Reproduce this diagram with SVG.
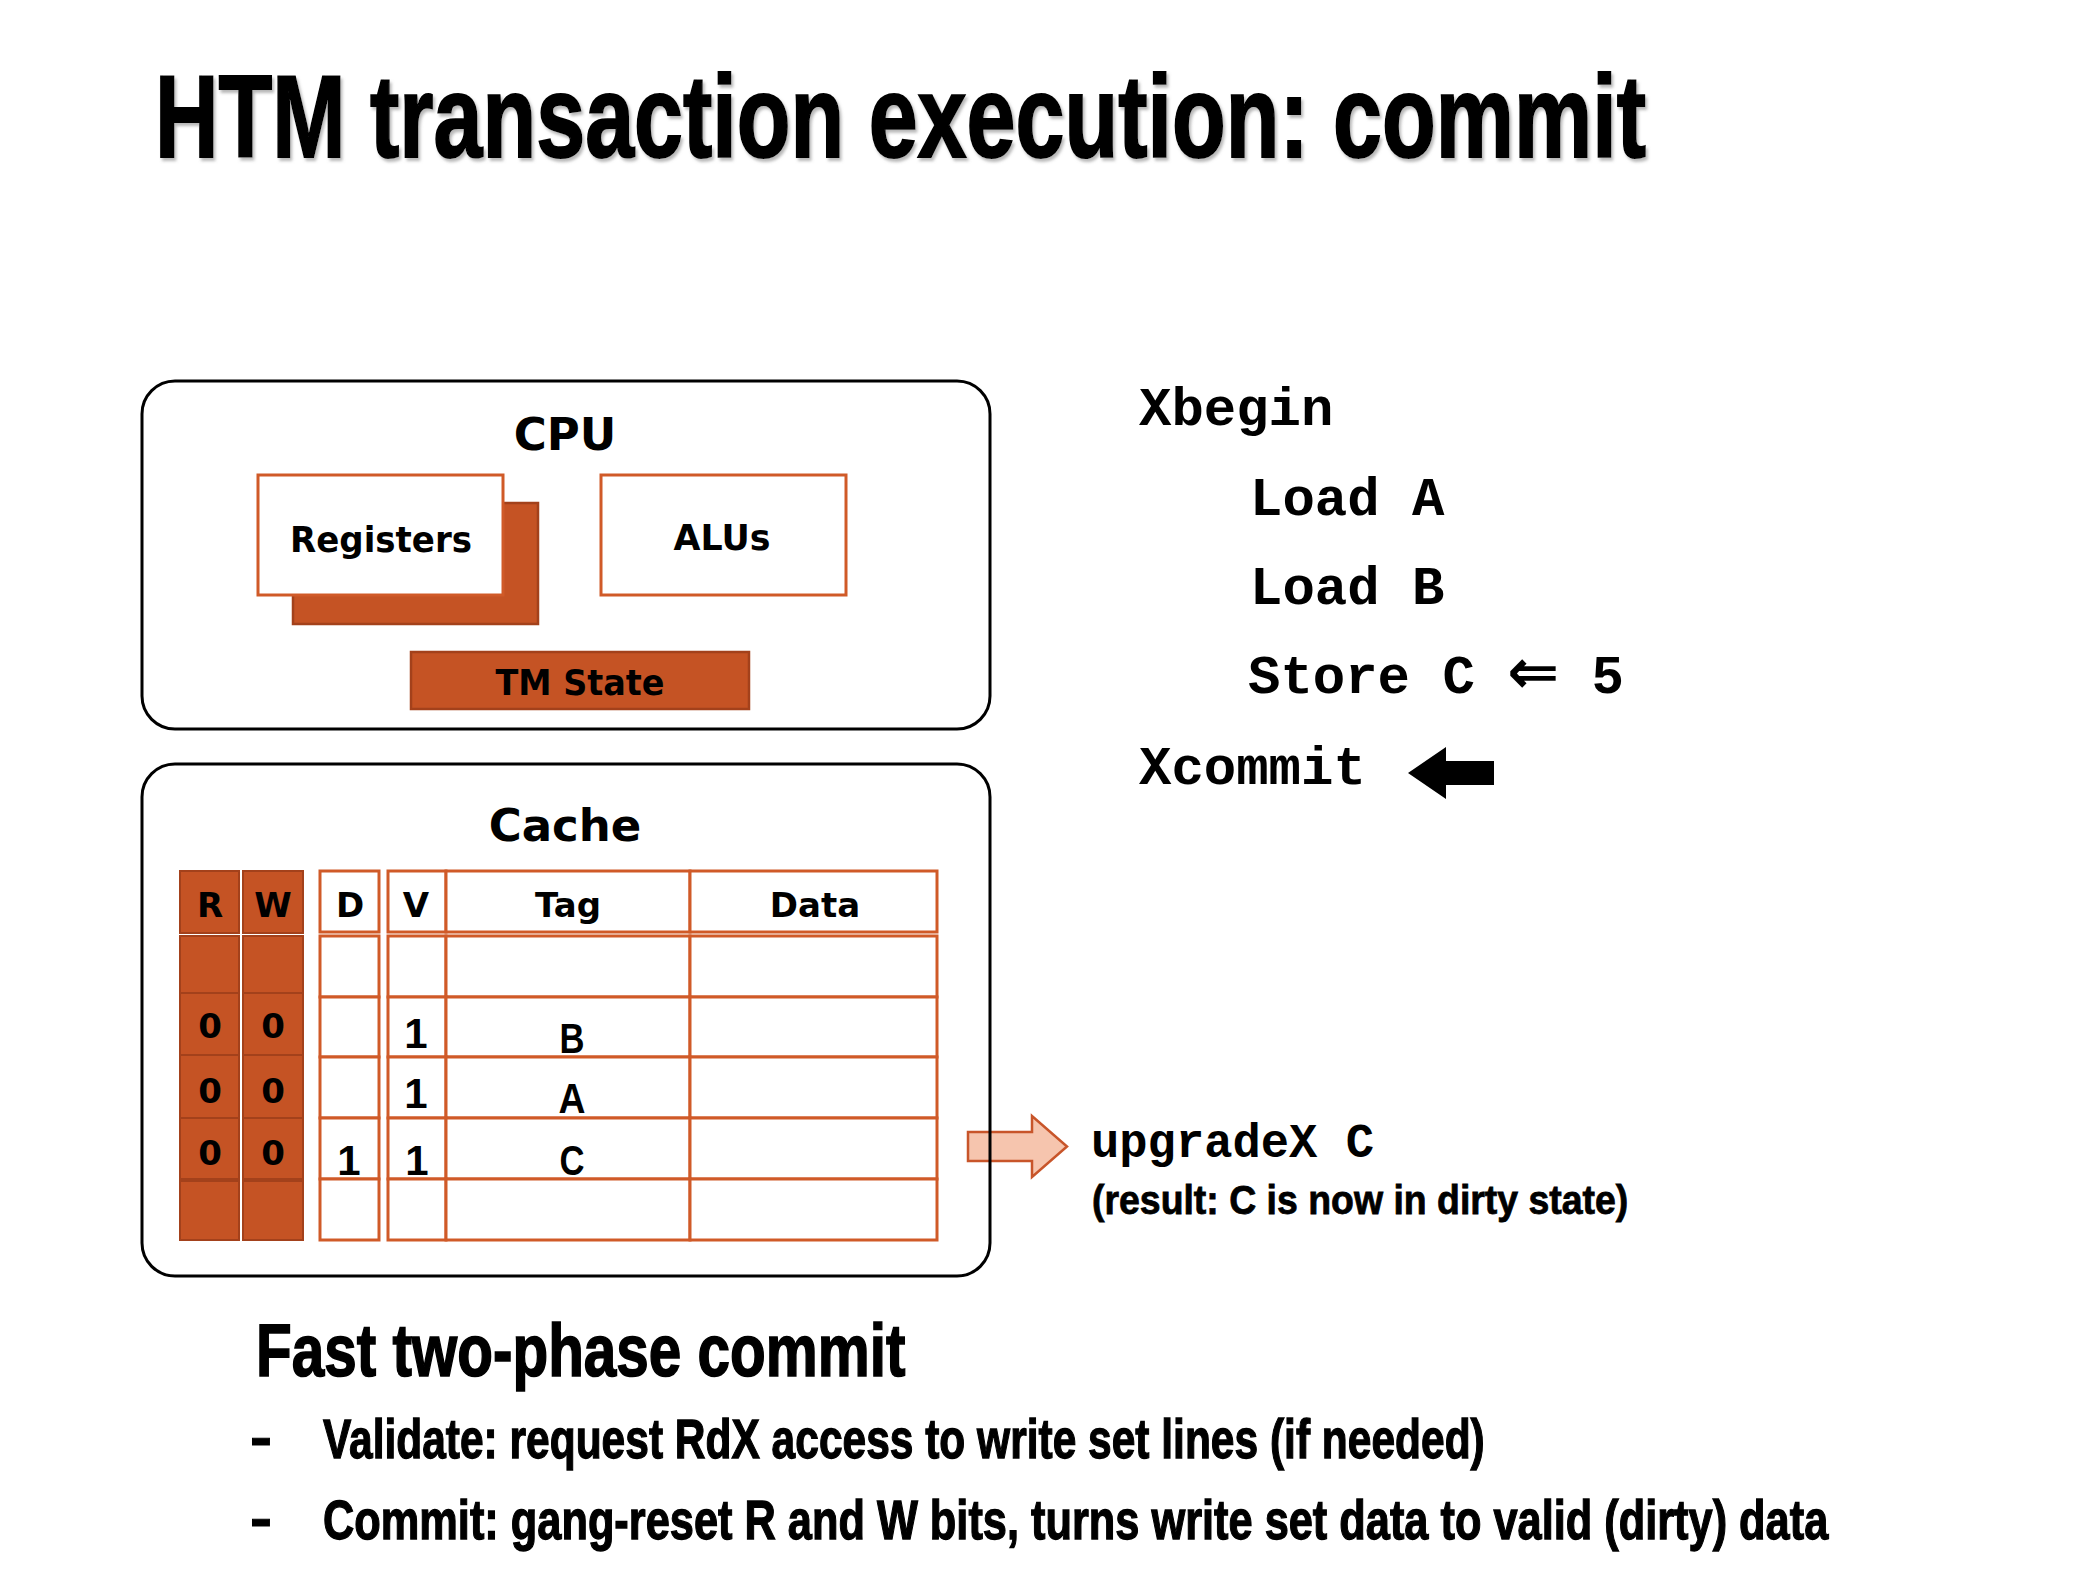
<svg xmlns="http://www.w3.org/2000/svg" width="2098" height="1596" viewBox="0 0 2098 1596">
<defs>
<style>
.box{fill:none;stroke:#000;stroke-width:3}
.wbox{fill:#fff;stroke:#D05A28;stroke-width:3}
.obox{fill:#C55324;stroke:#A3411B;stroke-width:2.5}
.cell{fill:#fff;stroke:#D05A28;stroke-width:3}
.rw{fill:#C55324;stroke:#A3411B;stroke-width:2}
.lbl{font-family:"DejaVu Sans",Verdana,sans-serif;font-weight:bold;fill:#000;text-anchor:middle}
.let{font-family:"Liberation Sans",Arial,sans-serif;font-weight:bold;fill:#000;text-anchor:middle}
.cond{font-family:"Liberation Sans",Arial,sans-serif;font-weight:bold;fill:#000;stroke:#000}
.mono{font-family:"Liberation Mono","DejaVu Sans Mono",monospace;font-weight:bold;fill:#000}
</style>
<filter id="shadow" filterUnits="userSpaceOnUse" x="0" y="0" width="2098" height="260">
<feDropShadow dx="2" dy="3" stdDeviation="1.5" flood-color="#888" flood-opacity="0.6"/>
</filter>
</defs>
<rect x="0" y="0" width="2098" height="1596" fill="#fff"/>

<g id="title" filter="url(#shadow)">
<text class="cond" transform="translate(155,157) scale(0.75,1)" x="0" y="0" font-size="117" stroke-width="2" textLength="1988" lengthAdjust="spacingAndGlyphs">HTM transaction execution: commit</text>
</g>

<g id="connectors">
<polygon points="968,1132 1032,1132 1032,1116 1067,1146.5 1032,1177 1032,1161 968,1161" fill="#F6C5AE" stroke="#C8552A" stroke-width="2.5" stroke-linejoin="miter"/>
<polygon points="1408,773 1446,747 1446,761 1494,761 1494,785 1446,785 1446,799" fill="#000"/>
</g>

<g id="cpu">
<rect class="box" x="142" y="381" width="848" height="348" rx="33" ry="33"/>
<text class="lbl" x="565" y="450" font-size="45">CPU</text>
</g>
<g id="registers">
<rect class="obox" x="293" y="503" width="245" height="121"/>
<rect class="wbox" x="258" y="475" width="245" height="120"/>
<text class="lbl" x="381" y="552" font-size="36" textLength="182" lengthAdjust="spacingAndGlyphs">Registers</text>
</g>
<g id="alus">
<rect class="wbox" x="601" y="475" width="245" height="120"/>
<text class="lbl" x="722" y="550" font-size="36" textLength="97" lengthAdjust="spacingAndGlyphs">ALUs</text>
</g>
<g id="tm-state">
<rect class="obox" x="411" y="652" width="338" height="57"/>
<text class="lbl" x="580" y="695" font-size="35" textLength="169" lengthAdjust="spacingAndGlyphs">TM State</text>
</g>

<g id="cache">
<rect class="box" x="142" y="764" width="848" height="512" rx="33" ry="33"/>
<text class="lbl" x="565" y="841" font-size="45">Cache</text>
</g>

<g id="rw-bits">
<rect class="rw" x="180" y="871" width="59" height="62"/>
<rect class="rw" x="243" y="871" width="60" height="62"/>
<rect class="rw" x="180" y="936" width="59" height="57"/>
<rect class="rw" x="243" y="936" width="60" height="57"/>
<rect class="rw" x="180" y="993" width="59" height="62"/>
<rect class="rw" x="243" y="993" width="60" height="62"/>
<rect class="rw" x="180" y="1055" width="59" height="63"/>
<rect class="rw" x="243" y="1055" width="60" height="63"/>
<rect class="rw" x="180" y="1118" width="59" height="61"/>
<rect class="rw" x="243" y="1118" width="60" height="61"/>
<rect class="rw" x="180" y="1181" width="59" height="59"/>
<rect class="rw" x="243" y="1181" width="60" height="59"/>
<text class="lbl" x="210" y="917" font-size="34">R</text>
<text class="lbl" x="273" y="917" font-size="34">W</text>
<text class="lbl" x="210" y="1038" font-size="34">0</text>
<text class="lbl" x="273" y="1038" font-size="34">0</text>
<text class="lbl" x="210" y="1103" font-size="34">0</text>
<text class="lbl" x="273" y="1103" font-size="34">0</text>
<text class="lbl" x="210" y="1165" font-size="34">0</text>
<text class="lbl" x="273" y="1165" font-size="34">0</text>
</g>

<g id="cache-lines">
<rect class="cell" x="320" y="871" width="59" height="61"/>
<rect class="cell" x="388" y="871" width="58" height="61"/>
<rect class="cell" x="446" y="871" width="244" height="61"/>
<rect class="cell" x="690" y="871" width="247" height="61"/>
<rect class="cell" x="320" y="936" width="59" height="61"/>
<rect class="cell" x="388" y="936" width="58" height="61"/>
<rect class="cell" x="446" y="936" width="244" height="61"/>
<rect class="cell" x="690" y="936" width="247" height="61"/>
<rect class="cell" x="320" y="997" width="59" height="60"/>
<rect class="cell" x="388" y="997" width="58" height="60"/>
<rect class="cell" x="446" y="997" width="244" height="60"/>
<rect class="cell" x="690" y="997" width="247" height="60"/>
<rect class="cell" x="320" y="1057" width="59" height="61"/>
<rect class="cell" x="388" y="1057" width="58" height="61"/>
<rect class="cell" x="446" y="1057" width="244" height="61"/>
<rect class="cell" x="690" y="1057" width="247" height="61"/>
<rect class="cell" x="320" y="1118" width="59" height="61"/>
<rect class="cell" x="388" y="1118" width="58" height="61"/>
<rect class="cell" x="446" y="1118" width="244" height="61"/>
<rect class="cell" x="690" y="1118" width="247" height="61"/>
<rect class="cell" x="320" y="1179" width="59" height="61"/>
<rect class="cell" x="388" y="1179" width="58" height="61"/>
<rect class="cell" x="446" y="1179" width="244" height="61"/>
<rect class="cell" x="690" y="1179" width="247" height="61"/>
<text class="lbl" x="350" y="917" font-size="34">D</text>
<text class="lbl" x="416" y="917" font-size="34">V</text>
<text class="lbl" x="568" y="917" font-size="34">Tag</text>
<text class="lbl" x="815" y="917" font-size="34">Data</text>
<text class="let" x="416" y="1048" font-size="42">1</text>
<text class="let" x="572" y="1053" font-size="42" textLength="25" lengthAdjust="spacingAndGlyphs">B</text>
<text class="let" x="416" y="1108" font-size="42">1</text>
<text class="let" x="572" y="1113" font-size="42" textLength="27" lengthAdjust="spacingAndGlyphs">A</text>
<text class="let" x="349" y="1175" font-size="42">1</text>
<text class="let" x="417" y="1175" font-size="42">1</text>
<text class="let" x="572" y="1175" font-size="42" textLength="25" lengthAdjust="spacingAndGlyphs">C</text>
</g>

<g id="code">
<text class="mono" x="1139" y="425" font-size="54">Xbegin</text>
<text class="mono" x="1250" y="515" font-size="54">Load A</text>
<text class="mono" x="1250" y="604" font-size="54">Load B</text>
<text class="mono" x="1248" y="693" font-size="54">Store C <tspan font-family="DejaVu Sans, sans-serif" font-size="62">⇐</tspan> 5</text>
<text class="mono" x="1139" y="784" font-size="54">Xcommit</text>
</g>

<g id="upgrade-note">
<text class="mono" x="1091" y="1157" font-size="48" textLength="283" lengthAdjust="spacingAndGlyphs">upgradeX C</text>
<text class="cond" transform="translate(1092,1214) scale(0.82,1)" x="0" y="0" font-size="40" stroke-width="0.8" textLength="654" lengthAdjust="spacingAndGlyphs">(result: C is now in dirty state)</text>
</g>

<g id="summary">
<text class="cond" transform="translate(256,1376) scale(0.79,1)" x="0" y="0" font-size="74" stroke-width="1.6" textLength="822" lengthAdjust="spacingAndGlyphs">Fast two-phase commit</text>
<text class="cond" x="250" y="1456" font-size="56" stroke-width="1" textLength="22" lengthAdjust="spacingAndGlyphs">-</text>
<text class="cond" transform="translate(323,1458) scale(0.75,1)" x="0" y="0" font-size="56" stroke-width="1.3" textLength="1549" lengthAdjust="spacingAndGlyphs">Validate: request RdX access to write set lines (if needed)</text>
<text class="cond" x="250" y="1537" font-size="56" stroke-width="1" textLength="22" lengthAdjust="spacingAndGlyphs">-</text>
<text class="cond" transform="translate(323,1539) scale(0.75,1)" x="0" y="0" font-size="56" stroke-width="1.3" textLength="2007" lengthAdjust="spacingAndGlyphs">Commit: gang-reset R and W bits, turns write set data to valid (dirty) data</text>
</g>
</svg>
